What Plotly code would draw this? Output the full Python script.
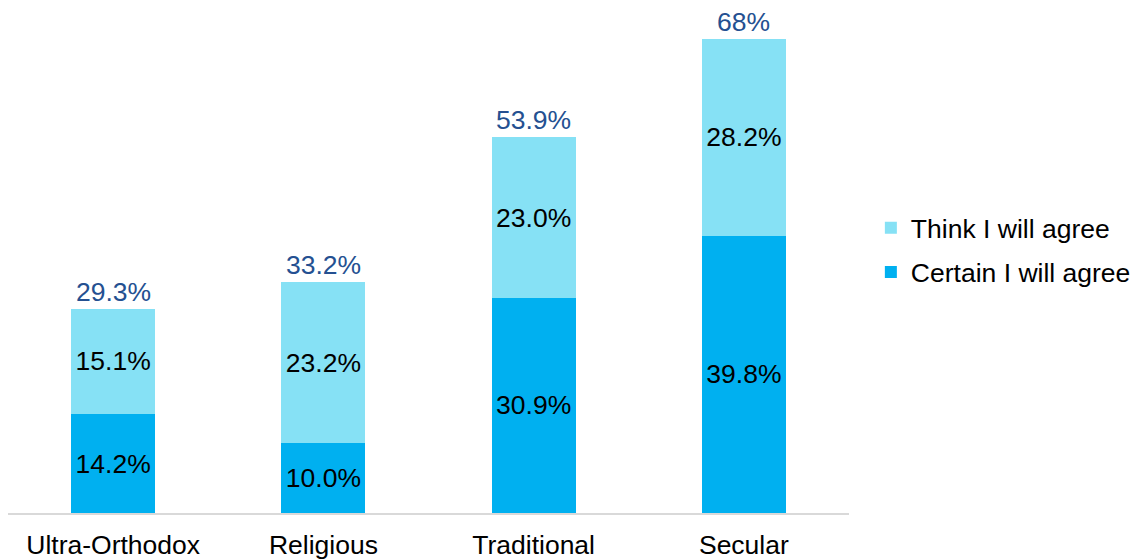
import plotly.graph_objects as go

categories = ["Ultra-Orthodox", "Religious", "Traditional", "Secular"]
certain = [14.2, 10.0, 30.9, 39.8]
think = [15.1, 23.2, 23.0, 28.2]
totals = [29.3, 33.2, 53.9, 68]
total_labels = ["29.3%", "33.2%", "53.9%", "68%"]

FONT = "Liberation Sans, Arial, sans-serif"
FS = 26.5

fig = go.Figure()
fig.add_trace(go.Bar(
    x=categories, y=certain, name="Certain I will agree",
    marker=dict(color="#00B0F0", line=dict(width=0)),
    texttemplate="%{y:.1f}%", textposition="inside", insidetextanchor="middle",
    textfont=dict(size=FS, color="black", family=FONT),
    legendgroup="b", legendrank=2,
))
fig.add_trace(go.Bar(
    x=categories, y=think, name="Think I will agree",
    marker=dict(color="#86E1F5", line=dict(width=0)),
    texttemplate="%{y:.1f}%", textposition="inside", insidetextanchor="middle",
    textfont=dict(size=FS, color="black", family=FONT),
    legendgroup="a", legendrank=1,
))

for c, t, lab in zip(categories, totals, total_labels):
    fig.add_annotation(x=c, y=t, text=lab, showarrow=False, yanchor="bottom",
                       yshift=0, font=dict(size=FS, color="#245091", family=FONT))

fig.update_layout(
    width=1130, height=551,
    barmode="stack", bargap=0.6,
    paper_bgcolor="white", plot_bgcolor="white",
    margin=dict(l=0, r=289, t=2, b=46, autoexpand=False),
    font=dict(family=FONT, color="black"),
    showlegend=True,
    legend=dict(x=1.026, xanchor="left", y=0.523, yanchor="middle",
                traceorder="grouped", tracegroupgap=7,
                font=dict(size=FS, color="black", family=FONT),
                bgcolor="rgba(0,0,0,0)"),
    xaxis=dict(showline=True, linecolor="#D9D9D9", linewidth=2, ticks="",
               ticklabelstandoff=7, automargin=False,
               tickfont=dict(size=FS, color="black", family=FONT), showgrid=False),
    yaxis=dict(range=[0, 72.2], visible=False, showgrid=False, zeroline=False),
)

fig.write_html("out.html")
